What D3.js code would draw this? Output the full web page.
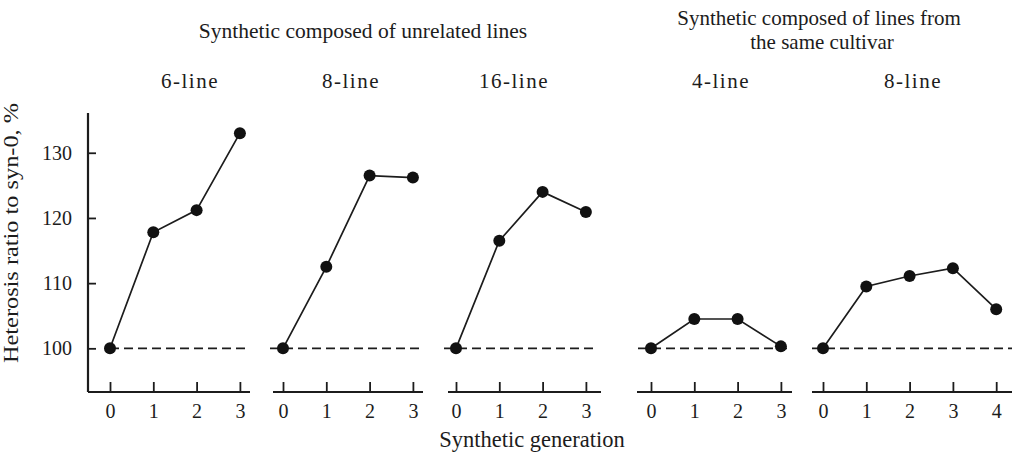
<!DOCTYPE html>
<html>
<head>
<meta charset="utf-8">
<script src="https://cdn.jsdelivr.net/npm/d3@7"></script>
<style>
  body { margin: 0; background: #fff; }
  svg text { font-family: "Liberation Serif", "DejaVu Serif", serif; fill: #1c1c1c; }
</style>
</head>
<body>
<div id="chart"></div>
<script>
// data
const groupTitles = ['Synthetic composed of unrelated lines', 'Synthetic composed of lines from', 'the same cultivar'];
const panelNames = ['6-line', '8-line', '16-line', '4-line', '8-line'];
const gen6 = [100, 117.8, 121.2, 133.0];
const gen8 = [100, 112.5, 126.5, 126.2];
const gen16 = [100, 116.5, 124.0, 120.9];
const same4 = [100, 104.5, 104.5, 100.3];
const same8 = [100, 109.5, 111.1, 112.3, 106.0];
const yTicks = [100, 110, 120, 130];
const baseline = 100;

const series = [gen6, gen8, gen16, same4, same8];

const width = 1012, height = 453;
const ink = '#1c1c1c';
const step = 43.3;
// layout of the five little panels
const panels = [
  { t0: 110, axis: [88, 250], dash: [110, 250], label: 190 },
  { t0: 283, axis: [273, 423], dash: [270, 423], label: 351 },
  { t0: 456, axis: [448, 601], dash: [444, 597], label: 514 },
  { t0: 651, axis: [637, 792], dash: [638, 792], label: 721 },
  { t0: 823, axis: [812, 1012], dash: [812, 1012], label: 913 }
];

const svg = d3.select('#chart').append('svg')
  .attr('width', width)
  .attr('height', height);

const y = d3.scaleLinear().domain([93.3, 136.1]).range([392, 113]);

// y axis
const yAxis = svg.append('g')
  .attr('transform', 'translate(88,0)')
  .call(d3.axisLeft(y).tickValues(yTicks).tickSize(-8).tickPadding(16).tickSizeOuter(0));
yAxis.select('.domain').remove();
yAxis.append('line')
  .attr('y1', y.range()[1]).attr('y2', y.range()[0])
  .attr('stroke', ink).attr('stroke-width', 2.2);
yAxis.selectAll('.tick line').attr('stroke', ink).attr('stroke-width', 1.8);
yAxis.selectAll('.tick text')
  .style('font-size', '20px')
  .attr('fill', ink);

svg.append('text')
  .attr('transform', 'translate(18,' + 233 + ') rotate(-90)')
  .attr('text-anchor', 'middle')
  .style('font-size', '20px')
  .attr('textLength', 260)
  .attr('lengthAdjust', 'spacingAndGlyphs')
  .text('Heterosis ratio to syn-0, %');

series.forEach((vals, i) => {
  const p = panels[i];
  const x = d3.scaleLinear()
    .domain([0, vals.length - 1])
    .range([p.t0, p.t0 + step * (vals.length - 1)]);

  const g = svg.append('g');

  // baseline dashes
  g.append('line')
    .attr('x1', p.dash[0]).attr('x2', p.dash[1])
    .attr('y1', y(baseline)).attr('y2', y(baseline))
    .attr('stroke', ink).attr('stroke-width', 1.8)
    .attr('stroke-dasharray', '9,5');

  // x axis
  const xa = g.append('g')
    .attr('transform', 'translate(0,392)')
    .call(d3.axisBottom(x).tickValues(d3.range(vals.length))
      .tickFormat(d3.format('d')).tickSize(-10).tickPadding(12).tickSizeOuter(0));
  xa.select('.domain').remove();
  xa.append('line')
    .attr('x1', p.axis[0]).attr('x2', p.axis[1])
    .attr('stroke', ink).attr('stroke-width', 2.2);
  xa.selectAll('.tick line').attr('stroke', ink).attr('stroke-width', 1.8);
  xa.selectAll('.tick text').style('font-size', '20px').attr('fill', ink);

  const line = d3.line().x((d, j) => x(j)).y(d => y(d));
  g.append('path')
    .datum(vals)
    .attr('d', line)
    .attr('fill', 'none')
    .attr('stroke', ink)
    .attr('stroke-width', 1.7);

  g.selectAll('circle')
    .data(vals)
    .enter()
    .append('circle')
    .attr('cx', (d, j) => x(j))
    .attr('cy', d => y(d))
    .attr('r', 6)
    .attr('fill', '#111');

  svg.append('text')
    .attr('x', p.label).attr('y', 88)
    .attr('text-anchor', 'middle')
    .style('font-size', '21px')
    .style('letter-spacing', '1.5px')
    .text(panelNames[i]);
});

svg.append('text')
  .attr('x', 363).attr('y', 38)
  .attr('text-anchor', 'middle')
  .style('font-size', '21.5px')
  .text(groupTitles[0]);
svg.append('text')
  .attr('x', 819).attr('y', 25)
  .attr('text-anchor', 'middle')
  .style('font-size', '21px')
  .text(groupTitles[1]);
svg.append('text')
  .attr('x', 822).attr('y', 48.5)
  .attr('text-anchor', 'middle')
  .style('font-size', '21px')
  .text(groupTitles[2]);

svg.append('text')
  .attr('x', 532).attr('y', 447)
  .attr('text-anchor', 'middle')
  .style('font-size', '22.5px')
  .text('Synthetic generation');
</script>
</body>
</html>
